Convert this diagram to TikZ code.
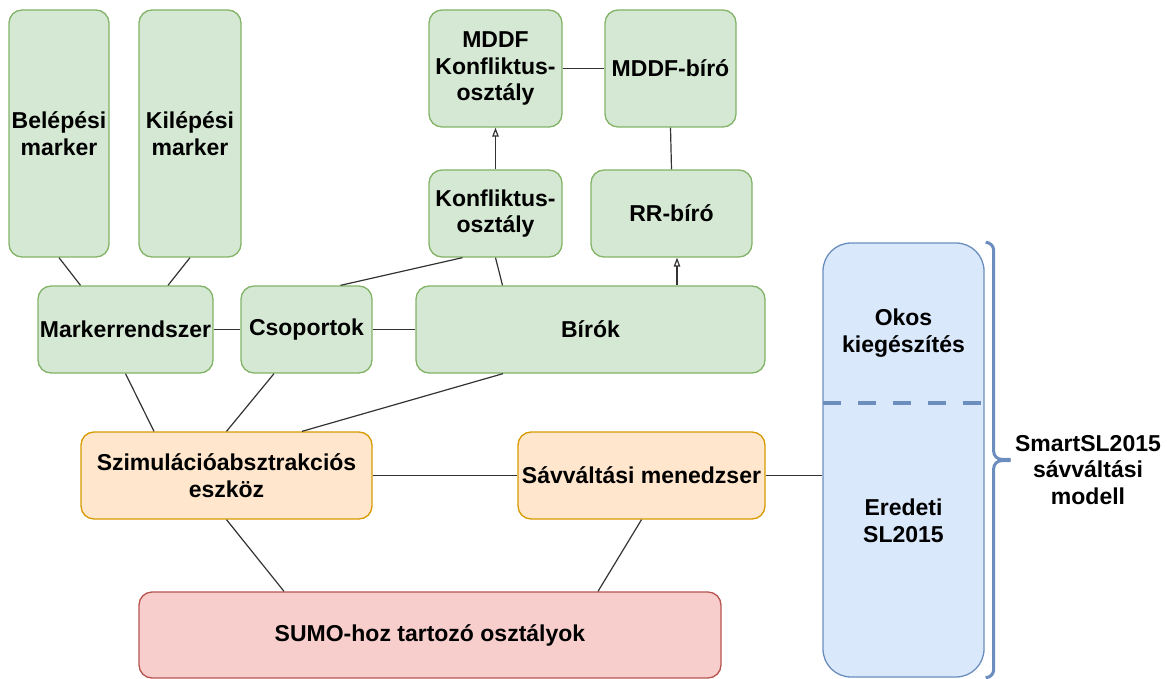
\documentclass[tikz,border=0pt]{standalone}
\usepackage{fontspec}
\setmainfont{Liberation Sans}
\usetikzlibrary{calc}
\usetikzlibrary{arrows.meta}
\usepackage{xcolor}

\definecolor{grfill}{HTML}{D5E8D4}
\definecolor{grline}{HTML}{82B366}
\definecolor{orfill}{HTML}{FFE6CC}
\definecolor{orline}{HTML}{D79B00}
\definecolor{rdfill}{HTML}{F8CECC}
\definecolor{rdline}{HTML}{B85450}
\definecolor{blfill}{HTML}{DAE8FC}
\definecolor{blline}{HTML}{6C8EBF}
\definecolor{linkcol}{HTML}{333333}

\tikzset{
 modbox/.style={draw, rounded corners=13pt, line width=1.3pt, inner sep=0pt, align=center,
   font=\bfseries\fontsize{23}{26.5}\selectfont},
 greenbox/.style={modbox, fill=grfill, draw=grline},
 orangebox/.style={modbox, fill=orfill, draw=orline},
 redbox/.style={modbox, fill=rdfill, draw=rdline},
 bluebox/.style={modbox, fill=blfill, draw=blline, rounded corners=28pt},
 plaintext/.style={align=center, inner sep=0pt, font=\bfseries\fontsize{23}{26.5}\selectfont},
 link/.style={draw=linkcol, line width=1.2pt},
 inherit/.style={link, -{Triangle[open, length=9pt, width=6.5pt]}},
 bracket/.style={draw=blline, line width=3pt, rounded corners=8pt},
}

\begin{document}
\begin{tikzpicture}[x=1pt,y=-1pt]
\useasboundingbox (0,0) rectangle (1167,679);

\node[greenbox, minimum width=100, minimum height=247] (belep) at (59,133.5) {Belépési\\marker};
\node[greenbox, minimum width=102, minimum height=247] (kilep) at (190,133.5) {Kilépési\\marker};
\node[greenbox, minimum width=133, minimum height=117] (mddfk) at (495.5,68.5) {MDDF\\Konfliktus-\\osztály};
\node[greenbox, minimum width=131, minimum height=117] (mddfb) at (670.5,68.5) {MDDF-bíró};
\node[greenbox, minimum width=133, minimum height=87] (konf) at (495.5,213.5) {Konfliktus-\\osztály};
\node[greenbox, minimum width=161, minimum height=87] (rr) at (671.5,213.5) {RR-bíró};
\node[greenbox, minimum width=175, minimum height=87] (marker) at (125.5,329.5) {Markerrendszer};
\node[greenbox, minimum width=131, minimum height=87] (csop) at (306.5,329.5) {Csoportok};
\node[greenbox, minimum width=349, minimum height=87] (birok) at (590.5,329.5) {Bírók};
\node[orangebox, minimum width=291, minimum height=87] (szim) at (226.5,475.5) {Szimulációabsztrakciós\\eszköz};
\node[orangebox, minimum width=247, minimum height=87] (savv) at (641.5,475.5) {Sávváltási menedzser};
\node[redbox, minimum width=582, minimum height=86] (sumo) at (430,635) {SUMO-hoz tartozó osztályok};
\node[bluebox, minimum width=161, minimum height=434] (model) at (903.5,460) {};
\node[plaintext] (okos) at (903.5,333) {Okos\\kiegészítés};
\node[plaintext] (eredeti) at (903.5,521) {Eredeti\\SL2015};
\node[plaintext] (smart) at (1088,470) {SmartSL2015\\sávváltási\\modell};

\draw[blline, line width=4.5pt, dash pattern=on 18pt off 17pt] (823,403) -- (984,403);
\draw[bracket] ([xshift=1pt]model.north east) -- ++(8,0) -- ++(0,217) -- ++(17,0);
\draw[bracket] ([xshift=1pt]model.south east) -- ++(8,0) -- ++(0,-217) -- ++(17,0);

\foreach \a/\b in {marker.east/csop.west, csop.east/birok.west, mddfk.east/mddfb.west,
  mddfb.south/rr.north, szim.east/savv.west}
 \draw[link] (\a) -- (\b);
\draw[link] (belep.south) -- ([xshift=-45pt]marker.north);
\draw[link] (kilep.south) -- ([xshift=42.5pt]marker.north);
\draw[link] ([xshift=34pt]csop.north) -- ([xshift=-33pt]konf.south);
\draw[link] ([xshift=-88pt]birok.north) -- (konf.south);
\draw[inherit] ([xshift=86.5pt]birok.north) -- ([xshift=5.5pt]rr.south);
\draw[inherit] (konf.north) -- (mddfk.south);
\draw[link] (marker.south) -- ([xshift=-72.5pt]szim.north);
\draw[link] ([xshift=-32.5pt]csop.south) -- (szim.north);
\draw[link] ([xshift=-87.5pt]birok.south) -- ([xshift=75.5pt]szim.north);
\draw[link] (savv.east) -- (savv.east -| model.west);
\draw[link] (szim.south) -- ([xshift=-146pt]sumo.north);
\draw[link] (savv.south) -- ([xshift=168pt]sumo.north);
\end{tikzpicture}
\end{document}
